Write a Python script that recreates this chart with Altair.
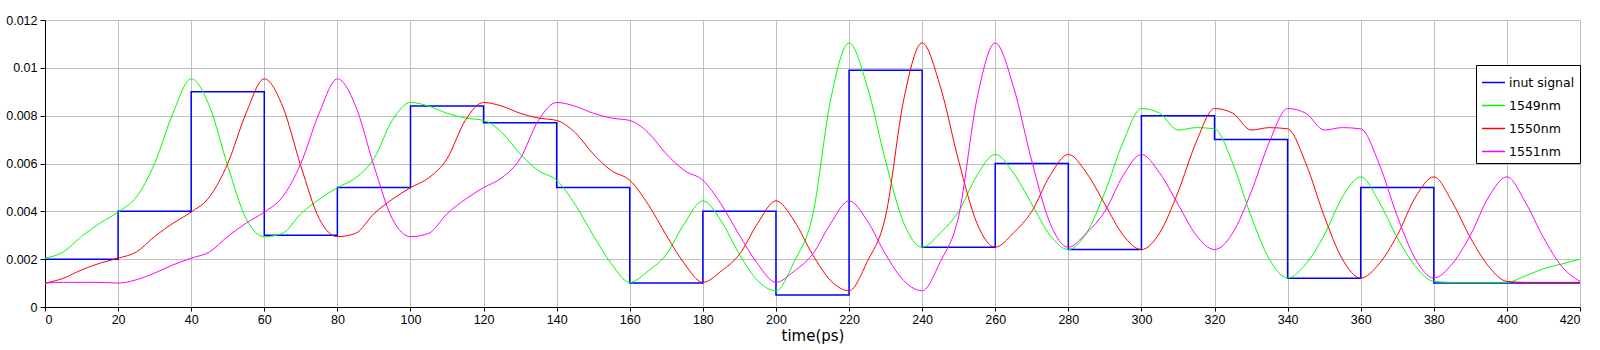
import altair as alt
import pandas as pd

# time axis of the smooth curves (ps)
time_ps = list(range(0, 425, 5))
# time of each 20 ps bit of the input signal (ps)
step_time_ps = list(range(0, 440, 20))

input_signal = [0.002, 0.004, 0.009, 0.003, 0.005, 0.0084, 0.0077, 0.005, 0.001, 0.004,
                0.0005, 0.0099, 0.0025, 0.006, 0.0024, 0.008, 0.007, 0.0012, 0.005, 0.001,
                0.001, 0.001]

nm1549 = [0.00204, 0.0023, 0.00295, 0.0035, 0.00397, 0.0046, 0.006, 0.0081, 0.00954, 0.0084,
          0.0059, 0.0037, 0.00294, 0.00308, 0.0039, 0.0045, 0.00499, 0.0054, 0.0062, 0.0078,
          0.00855, 0.0084, 0.0081, 0.0079, 0.0078, 0.0073, 0.0064, 0.0057, 0.0053, 0.0043,
          0.003, 0.0018, 0.00103, 0.0015, 0.0022, 0.0035, 0.00444, 0.0036, 0.0022, 0.0011,
          0.00068, 0.0019, 0.0038, 0.0087, 0.01104, 0.0092, 0.0061, 0.0035, 0.0025, 0.0031,
          0.004, 0.0055, 0.00638, 0.0056, 0.0043, 0.003, 0.0024, 0.0031, 0.0048, 0.0069,
          0.0083, 0.0081, 0.0074, 0.0075, 0.00745, 0.006, 0.0038, 0.002, 0.00121, 0.0018,
          0.003, 0.0046, 0.00544, 0.0044, 0.0029, 0.0017, 0.00107, 0.00103, 0.00103, 0.00103,
          0.00103, 0.0013, 0.0016, 0.0018, 0.002]

nm1550 = [0.001, 0.0012, 0.00155, 0.00183,
          0.00204, 0.0023, 0.00295, 0.0035, 0.00397, 0.0046, 0.006, 0.0081, 0.00954, 0.0084,
          0.0059, 0.0037, 0.00294, 0.00308, 0.0039, 0.0045, 0.00499, 0.0054, 0.0062, 0.0078,
          0.00855, 0.0084, 0.0081, 0.0079, 0.0078, 0.0073, 0.0064, 0.0057, 0.0053, 0.0043,
          0.003, 0.0018, 0.00103, 0.0015, 0.0022, 0.0035, 0.00444, 0.0036, 0.0022, 0.0011,
          0.00068, 0.0019, 0.0038, 0.0087, 0.01104, 0.0092, 0.0061, 0.0035, 0.0025, 0.0031,
          0.004, 0.0055, 0.00638, 0.0056, 0.0043, 0.003, 0.0024, 0.0031, 0.0048, 0.0069,
          0.0083, 0.0081, 0.0074, 0.0075, 0.00745, 0.006, 0.0038, 0.002, 0.00121, 0.0018,
          0.003, 0.0046, 0.00544, 0.0044, 0.0029, 0.0017, 0.00107, 0.00103, 0.00103, 0.00103,
          0.00103]

nm1551 = [0.001, 0.00103, 0.00103, 0.00103, 0.001, 0.00114, 0.00142, 0.00176,
          0.00204, 0.0023, 0.00295, 0.0035, 0.00397, 0.0046, 0.006, 0.0081, 0.00954, 0.0084,
          0.0059, 0.0037, 0.00294, 0.00308, 0.0039, 0.0045, 0.00499, 0.0054, 0.0062, 0.0078,
          0.00855, 0.0084, 0.0081, 0.0079, 0.0078, 0.0073, 0.0064, 0.0057, 0.0053, 0.0043,
          0.003, 0.0018, 0.00103, 0.0015, 0.0022, 0.0035, 0.00444, 0.0036, 0.0022, 0.0011,
          0.00068, 0.0019, 0.0038, 0.0087, 0.01104, 0.0092, 0.0061, 0.0035, 0.0025, 0.0031,
          0.004, 0.0055, 0.00638, 0.0056, 0.0043, 0.003, 0.0024, 0.0031, 0.0048, 0.0069,
          0.0083, 0.0081, 0.0074, 0.0075, 0.00745, 0.006, 0.0038, 0.002, 0.00121, 0.0018,
          0.003, 0.0046, 0.00544, 0.0044, 0.0029, 0.0017, 0.00107]

series_names = ["inut signal", "1549nm", "1550nm", "1551nm"]
series_colors = ["#0000ff", "#00ff00", "#ff0000", "#ff00ff"]

x_ticks = list(range(0, 421, 20))
y_ticks = [0, 0.002, 0.004, 0.006, 0.008, 0.01, 0.012]

step_df = pd.DataFrame({"t": step_time_ps, "v": input_signal, "series": "inut signal"})
smooth_df = pd.concat([
    pd.DataFrame({"t": time_ps, "v": vals, "series": name})
    for name, vals in zip(series_names[1:], [nm1549, nm1550, nm1551])
], ignore_index=True)

color = alt.Color(
    "series:N",
    scale=alt.Scale(domain=series_names, range=series_colors),
    legend=alt.Legend(
        title=None, orient="none", legendX=1431, legendY=45,
        fillColor="white", strokeColor="black", padding=5,
        symbolType="stroke", symbolSize=529, symbolStrokeWidth=1.5,
        labelFont="DejaVu Sans", labelFontSize=12.5, labelColor="black",
        labelOffset=3, rowPadding=4,
    ),
)

x = alt.X("t:Q", scale=alt.Scale(domain=[0, 420], nice=False, zero=False),
          axis=alt.Axis(values=x_ticks, title="time(ps)", format="d",
                        tickSize=4, labelPadding=2, titlePadding=3,
                        titleFont="DejaVu Sans", titleFontSize=15, titleFontWeight="normal"))
y = alt.Y("v:Q", scale=alt.Scale(domain=[0, 0.012], nice=False),
          axis=alt.Axis(values=y_ticks, title=None, format="~g",
                        tickSize=5, labelPadding=3))

step = alt.Chart(step_df).mark_line(interpolate="step-after", strokeWidth=1.5).encode(
    x=x, y=y, color=color)
smooth = alt.Chart(smooth_df).mark_line(interpolate="monotone", strokeWidth=1).encode(
    x=x, y=y, color=color)

chart = alt.layer(step, smooth).properties(
    width=1535, height=287,
    autosize=alt.AutoSizeParams(type="none"),
    padding={"left": 45, "top": 20, "right": 20, "bottom": 43},
    background="white",
).configure_view(stroke="transparent").configure_axis(
    domainColor="black", domainWidth=1, tickColor="black",
    gridColor="#c0c0c0", gridWidth=1, gridOpacity=1,
    labelFont="Liberation Sans", labelFontSize=12.5, labelColor="black",
    titleColor="black",
)

chart.save("out.html", embed_options={"renderer": "svg", "actions": False})
